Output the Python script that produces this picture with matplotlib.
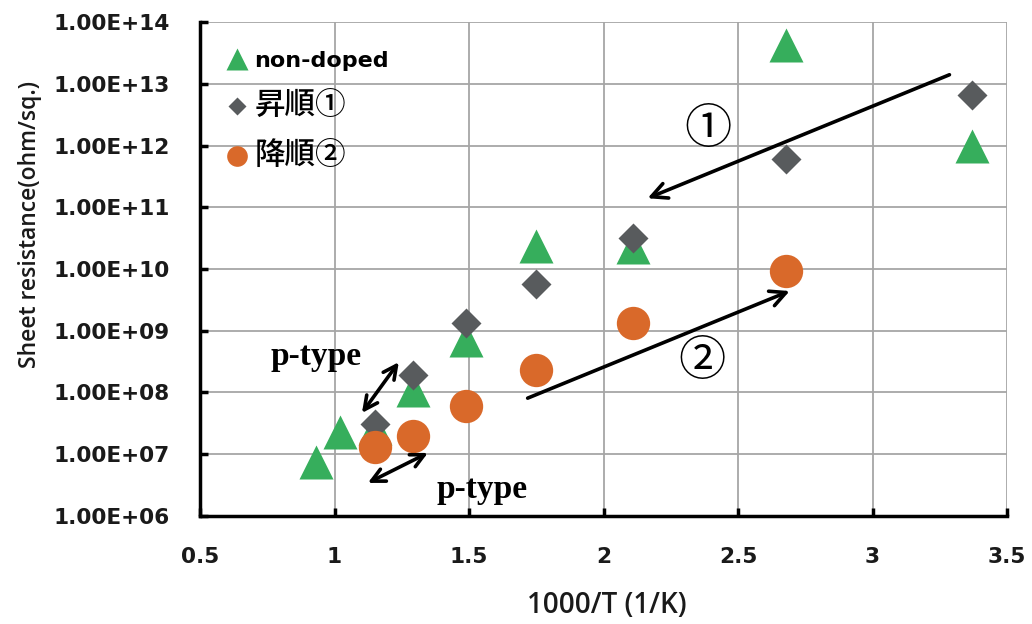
import numpy as np
import matplotlib.pyplot as plt
from matplotlib.ticker import FixedLocator, FuncFormatter

plt.rcParams['font.family'] = ['DejaVu Sans', 'Noto Sans CJK JP']

# data (x = 1000/T, y = sheet resistance in ohm/sq.)
x_nondoped = [0.93, 1.02, 1.15, 1.29, 1.49, 1.75, 2.11, 2.68, 3.37]
y_nondoped = [7.5e6, 2.3e7, 2.7e7, 1.1e8, 7.0e8, 2.4e10, 2.3e10, 4.2e13, 1.0e12]

x_up = [1.15, 1.29, 1.49, 1.75, 2.11, 2.68, 3.37]
y_up = [3.1e7, 1.9e8, 1.35e9, 5.8e9, 3.2e10, 6.0e11, 6.6e12]

x_down = [1.15, 1.29, 1.49, 1.75, 2.11, 2.68]
y_down = [1.3e7, 2.0e7, 6.0e7, 2.3e8, 1.35e9, 9.4e9]

labels = ['non-doped', '昇順①', '降順②']
xticks = [0.5, 1, 1.5, 2, 2.5, 3, 3.5]
yticks = [10.0 ** k for k in range(6, 15)]

green = '#36ae5c'
gray = '#585b5d'
orange = '#d9692a'

fig = plt.figure(figsize=(10.32, 6.24), dpi=100, facecolor='white')
ax = fig.add_axes([0.1938, 0.1731, 0.7820, 0.7916])

ax.plot(x_nondoped, y_nondoped, '^', ms=25, color=green, mec='none', label=labels[0], zorder=3)
ax.plot(x_up, y_up, 'D', ms=15.5, color=gray, mec='none', label=labels[1], zorder=4)
ax.plot(x_down, y_down, 'o', ms=24, color=orange, mec='none', label=labels[2], zorder=5)

ax.set_yscale('log')
ax.set_xlim(0.5, 3.5)
ax.set_ylim(1e6, 1e14)
ax.xaxis.set_major_locator(FixedLocator(xticks))
ax.yaxis.set_major_locator(FixedLocator(yticks))
ax.yaxis.set_minor_locator(FixedLocator([]))
ax.xaxis.set_major_formatter(FuncFormatter(lambda v, p: ('%g' % v)))
ax.yaxis.set_major_formatter(FuncFormatter(lambda v, p: '1.00E+%02d' % int(round(np.log10(v)))))

ax.grid(True, color='#a6a6a6', lw=1.3, zorder=0)
ax.set_axisbelow(True)
for s in ['top', 'right']:
    ax.spines[s].set_visible(False)
for s in ['left', 'bottom']:
    ax.spines[s].set_linewidth(2.5)
    ax.spines[s].set_color('black')
ax.tick_params(direction='in', length=6, width=2.5, pad=22, labelsize=15.6)
for lab in ax.get_xticklabels() + ax.get_yticklabels():
    lab.set_fontweight('bold')
    lab.set_color('#1a1a1a')

ax.set_xlabel('1000/T (1/K)', fontsize=20, color='#1a1a1a', family='Open Sans', fontweight='semibold')
ax.set_ylabel('Sheet resistance(ohm/sq.)', fontsize=16.5, color='#1a1a1a', family='Open Sans',
              fontweight='semibold')
ax.xaxis.set_label_coords(0.5041, -0.152)
ax.yaxis.set_label_coords(-0.196, 0.59)

leg = ax.legend(loc='upper left', frameon=False, fontsize=16, markerscale=0.62,
                handletextpad=0.2, labelspacing=0.85, borderaxespad=0.5,
                handlelength=1.2, bbox_to_anchor=(0.004, 0.982))
texts = leg.get_texts()
texts[0].set_fontweight('bold')
for t in texts[1:]:
    t.set_family(['Noto Sans CJK JP', 'DejaVu Sans'])
    t.set_fontsize(22)
    t.set_fontweight('medium')

# annotation arrows
arrow = dict(arrowstyle='->', lw=2.6, color='black', mutation_scale=28, shrinkA=0, shrinkB=0)
darrow = dict(arrowstyle='<->', lw=2.6, color='black', mutation_scale=24, shrinkA=0, shrinkB=0)
ax.annotate('', xy=(2.164, 1.4e11), xytext=(3.286, 1.4e13), arrowprops=arrow, zorder=6)
ax.annotate('', xy=(2.692, 4.4e9), xytext=(1.718, 8.1e7), arrowprops=arrow, zorder=6)
ax.annotate('', xy=(1.102, 4.66e7), xytext=(1.239, 3.1e8), arrowprops=darrow, zorder=6)
ax.annotate('', xy=(1.124, 3.43e6), xytext=(1.347, 1.05e7), arrowprops=darrow, zorder=6)

ax.text(2.387, 1.8e12, '①', fontsize=34, ha='center', va='center',
        family=['Noto Sans CJK JP', 'DejaVu Sans'])
ax.text(2.365, 3.1e8, '②', fontsize=34, ha='center', va='center',
        family=['Noto Sans CJK JP', 'DejaVu Sans'])
ax.text(0.931, 3.76e8, 'p-type', fontsize=24, fontweight='bold', ha='center', va='center',
        family='Liberation Serif')
ax.text(1.548, 2.64e6, 'p-type', fontsize=24, fontweight='bold', ha='center', va='center',
        family='Liberation Serif')

plt.savefig('out.png', dpi=100, facecolor='white')
